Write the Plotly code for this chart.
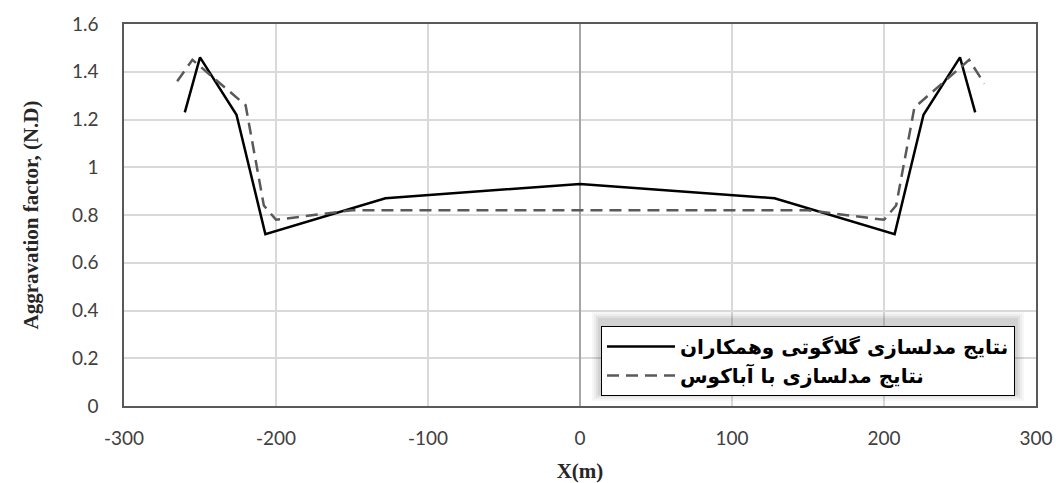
import plotly.graph_objects as go

# Solid series (Galgoti et al.)
x_solid = [-260, -250, -226, -207, -128, 0, 128, 207, 226, 250, 260]
y_solid = [1.23, 1.46, 1.22, 0.72, 0.87, 0.93, 0.87, 0.72, 1.22, 1.46, 1.23]

# Dashed series (Abaqus)
x_dash = [-265, -255, -220, -208, -200, -150, 0, 150, 200, 208, 220, 256, 266]
y_dash = [1.36, 1.45, 1.26, 0.84, 0.78, 0.82, 0.82, 0.82, 0.78, 0.84, 1.25, 1.45, 1.35]

name_solid = "نتایج مدلسازی گلاگوتی وهمکاران"
name_dash = "نتایج مدلسازی با آباکوس"

x_ticks = [-300, -200, -100, 0, 100, 200, 300]
x_ticklabels = ["-300", "-200", "-100", "0", "100", "200", "300"]
y_ticks = [0, 0.2, 0.4, 0.6, 0.8, 1, 1.2, 1.4, 1.6]
y_ticklabels = ["0", "0.2", "0.4", "0.6", "0.8", "1", "1.2", "1.4", "1.6"]

fig = go.Figure()
fig.add_trace(go.Scatter(x=x_solid, y=y_solid, mode="lines", name="<b>" + name_solid + "</b>",
                         line=dict(color="black", width=2.5)))
fig.add_trace(go.Scatter(x=x_dash, y=y_dash, mode="lines", name="<b>" + name_dash + "</b>",
                         line=dict(color="#595959", width=2.5, dash="12px,7px")))

W, H = 1056, 483
L, R, T, B = 124, 20, 24, 77
pw, ph = W - L - R, H - T - B

def px2paper(x, y):
    return (x - L) / pw, (H - B - y) / ph

# soft legend shadow
for d, a in [(9, 0.03), (7, 0.04), (5, 0.05), (3, 0.06)]:
    x0, y0 = px2paper(601 - d, 396 + d - 4)
    x1, y1 = px2paper(1015 + d, 321 - d)
    fig.add_shape(type="rect", xref="paper", yref="paper", x0=x0, y0=y0, x1=x1, y1=y1,
                  line=dict(width=0), fillcolor=f"rgba(0,0,0,{a})", layer="above")

tickfont = dict(family="Lato, Open Sans, sans-serif", size=19, color="#404040")
titlefont = dict(family="Liberation Serif, Times New Roman, serif", size=21, color="#262626")

fig.update_layout(
    width=W, height=H,
    margin=dict(l=L, r=R, t=T, b=B),
    plot_bgcolor="white", paper_bgcolor="white",
    showlegend=True,
    legend=dict(x=(1015 - L) / pw, xanchor="right", y=(406 - 396) / ph, yanchor="bottom",
                bgcolor="white", bordercolor="black", borderwidth=1,
                font=dict(family="DejaVu Sans, sans-serif", size=20, color="black"),
                itemwidth=68, tracegroupgap=0),
    xaxis=dict(range=[-300, 300], tickvals=x_ticks, ticktext=x_ticklabels, tickfont=tickfont,
               automargin=False,
               showgrid=True, gridcolor="#d9d9d9", gridwidth=1.5,
               zeroline=True, zerolinecolor="#a6a6a6", zerolinewidth=1.5,
               showline=True, linecolor="#595959", linewidth=1.5, mirror=True,
               ticks="", ticklabelstandoff=14,
               title=dict(text="<b>X(m)</b>", font=titlefont, standoff=26)),
    yaxis=dict(range=[0, 1.6], tickvals=y_ticks, ticktext=y_ticklabels, tickfont=tickfont,
               automargin=False,
               showgrid=True, gridcolor="#d9d9d9", gridwidth=1.5,
               zeroline=False,
               showline=True, linecolor="#595959", linewidth=1.5, mirror=True,
               ticks="", ticklabelstandoff=20,
               title=dict(text="<b>Aggravation factor, (N.D)</b>", font=titlefont, standoff=28)),
)

fig.write_html("out.html", config={"displayModeBar": False},
               post_script="document.body.style.margin='0';document.body.style.padding='0';")
